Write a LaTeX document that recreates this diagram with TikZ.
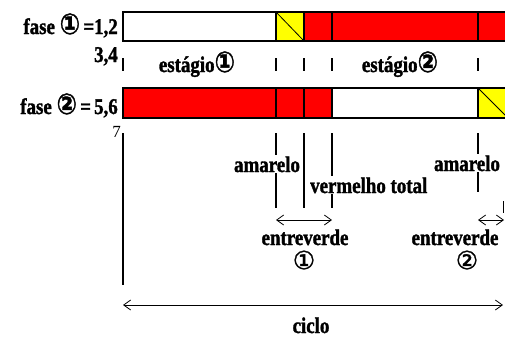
\documentclass[tikz,border=0pt]{standalone}
\usepackage{fontspec}
\usepackage{graphicx}
\setmainfont{Liberation Serif}[BoldFeatures={FakeBold=1.6}]
\newfontfamily\symf{DejaVu Sans}[FakeBold=1.5]
\usetikzlibrary{arrows.meta}
\definecolor{cred}{RGB}{255,0,0}
\definecolor{cyel}{RGB}{255,255,0}
\newcommand{\tall}[1]{\scalebox{0.97}[1.15]{#1}}
\newcommand{\cA}{{\symf\fontsize{25}{25}\selectfont ①}}
\newcommand{\cB}{{\symf\fontsize{25}{25}\selectfont ②}}
\begin{document}
\begin{tikzpicture}[x=1pt,y=-1pt,
  lbl/.style={font=\fontsize{19.5}{20}\selectfont\bfseries, inner sep=1pt},
  circ/.style={inner sep=0pt},
  mask/.style={fill=white},
  barline/.style={draw=black, line width=2pt},
  vline/.style={draw=black, line width=1.4pt},
  thin/.style={draw=black, line width=0.8pt},
  dim/.style={draw=black, line width=0.8pt, {Straight Barb[length=7pt,width=10pt]}-{Straight Barb[length=7pt,width=10pt]}}
]
\useasboundingbox (0,0) rectangle (505,338);

% ---- bar 1
\fill[white] (123,12) rectangle (276,41);
\fill[cyel] (276,12) rectangle (304,41);
\fill[cred] (304,12) rectangle (505,41);
\draw[thin] (276,12) -- (304,41);
\draw[barline] (507,12) -- (123,12) -- (123,41) -- (507,41);
\foreach \x in {276,304,332,478} \draw[barline] (\x,12) -- (\x,41);

% ---- bar 2
\fill[cred] (123,88) rectangle (332,118);
\fill[white] (332,88) rectangle (478,118);
\fill[cyel] (478,88) rectangle (505,118);
\draw[thin] (478,88) -- (507,117);
\draw[barline] (507,88) -- (123,88) -- (123,118) -- (507,118);
\foreach \x in {276,304,332,478} \draw[barline] (\x,88) -- (\x,118);

% ---- ticks between bars
\foreach \x in {123,276,304,332,478} \draw[vline] (\x,58) -- (\x,71);

% ---- vertical guide lines
\coordinate (c0t) at (123,133); \coordinate (c0b) at (123,285);
\coordinate (c1t) at (276,133); \coordinate (c1b) at (276,208);
\coordinate (c2t) at (304,133); \coordinate (c2b) at (304,208);
\coordinate (c3t) at (332,133); \coordinate (c3b) at (332,208);
\coordinate (c4t) at (478,133); \coordinate (c4b) at (478,192);
\coordinate (c5t) at (503,201); \coordinate (c5b) at (503,213);
\draw[vline] (c0t) -- (c0b);
\draw[vline] (c1t) -- (c1b);
\draw[vline] (c2t) -- (c2b);
\draw[vline] (c3t) -- (c3b);
\draw[vline] (c4t) -- (c4b);
\draw[thin] (c5t) -- (c5b);

% ---- left labels
\node[lbl, anchor=base east] (f1) at (119,34) {\tall{fase \cA\,=1,2}};
\node[lbl, anchor=base east] (n34) at (119,62) {\tall{3,4}};
\node[lbl, anchor=base east] (f2) at (119,114) {\tall{fase \cB\,=\,5,6}};
\node[font=\fontsize{17}{17}\selectfont, anchor=base east, inner sep=0pt] (n7) at (121,137) {7};

% ---- stage labels
\node[lbl, anchor=base] (e1) at (197,72) {\tall{estágio\cA}};
\node[lbl, anchor=base] (e2) at (400,72) {\tall{estágio\cB}};

% ---- lower labels
\node[lbl, mask, anchor=base] (am1) at (267,172) {\tall{amarelo}};
\node[lbl, mask, anchor=base west] (vt) at (309,193) {\tall{vermelho total}};
\node[lbl, mask, anchor=base] (am2) at (467,171) {\tall{amarelo}};

% ---- entreverde arrows
\coordinate (a1l) at (276,220); \coordinate (a1r) at (332,220);
\coordinate (a2l) at (478,220); \coordinate (a2r) at (504,220);
\draw[dim] (a1l) -- (a1r);
\draw[dim] (a2l) -- (a2r);
\node[lbl, anchor=base] (ev1) at (305,245) {\tall{entreverde}};
\node[circ] (o1) at (304,260) {\cA};
\node[lbl, anchor=base] (ev2) at (455,245) {\tall{entreverde}};
\node[circ] (o2) at (467,260) {\cB};

% ---- ciclo
\coordinate (cl) at (123,305); \coordinate (cr) at (503,305);
\draw[dim] (cl) -- (cr);
\node[lbl, anchor=base] (ciclo) at (311,333) {\tall{ciclo}};
\end{tikzpicture}
\end{document}
